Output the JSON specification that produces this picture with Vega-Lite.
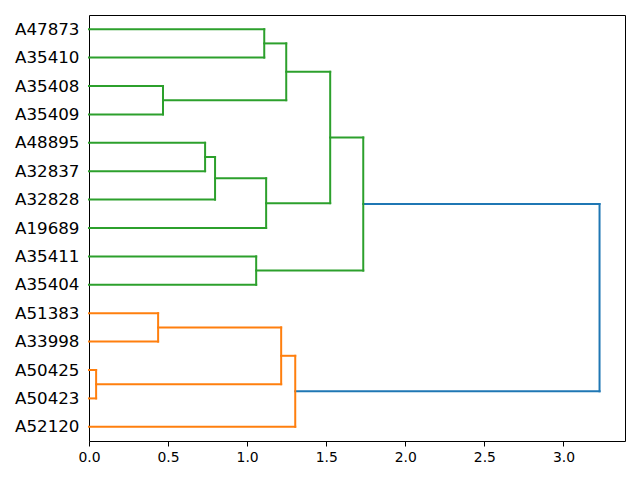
{
  "$schema": "https://vega.github.io/schema/vega-lite/v6.json",
  "width": 536,
  "height": 426,
  "autosize": {"type": "none"},
  "padding": {"left": 89, "top": 15, "right": 15, "bottom": 39},
  "background": "white",
  "config": {
    "font": "DejaVu Sans",
    "view": {"stroke": "black", "strokeWidth": 1},
    "axis": {"grid": false, "domain": false, "labelColor": "black", "tickColor": "black", "labelOverlap": false}
  },
  "data": {
    "values": [
      {"y1": 25, "y2": 15, "d1": 0, "d2": 0, "h": 0.045, "c": "orange"},
      {"y1": 45, "y2": 35, "d1": 0, "d2": 0, "h": 0.437, "c": "orange"},
      {"y1": 40, "y2": 20, "d1": 0.437, "d2": 0.045, "h": 1.215, "c": "orange"},
      {"y1": 30, "y2": 5, "d1": 1.215, "d2": 0, "h": 1.304, "c": "orange"},
      {"y1": 125, "y2": 115, "d1": 0, "d2": 0, "h": 0.468, "c": "green"},
      {"y1": 145, "y2": 135, "d1": 0, "d2": 0, "h": 1.108, "c": "green"},
      {"y1": 140, "y2": 120, "d1": 1.108, "d2": 0.468, "h": 1.247, "c": "green"},
      {"y1": 105, "y2": 95, "d1": 0, "d2": 0, "h": 0.734, "c": "green"},
      {"y1": 100, "y2": 85, "d1": 0.734, "d2": 0, "h": 0.797, "c": "green"},
      {"y1": 92.5, "y2": 75, "d1": 0.797, "d2": 0, "h": 1.12, "c": "green"},
      {"y1": 130, "y2": 83.75, "d1": 1.247, "d2": 1.12, "h": 1.525, "c": "green"},
      {"y1": 65, "y2": 55, "d1": 0, "d2": 0, "h": 1.057, "c": "green"},
      {"y1": 106.875, "y2": 60, "d1": 1.525, "d2": 1.057, "h": 1.734, "c": "green"},
      {"y1": 83.4375, "y2": 17.5, "d1": 1.734, "d2": 1.304, "h": 3.228, "c": "blue"}
    ]
  },
  "encoding": {
    "color": {
      "field": "c",
      "type": "nominal",
      "scale": {"domain": ["orange", "green", "blue"], "range": ["#ff7f0e", "#2ca02c", "#1f77b4"]},
      "legend": null
    }
  },
  "layer": [
    {
      "mark": {"type": "rule", "strokeWidth": 2, "strokeCap": "square"},
      "encoding": {
        "x": {
          "field": "d1", "type": "quantitative",
          "scale": {"domain": [0, 3.389], "nice": false, "zero": false},
          "axis": {"title": null, "values": [0, 0.5, 1, 1.5, 2, 2.5, 3], "tickCount": 20, "format": ".1f", "labelFontSize": 13.9, "tickSize": 5, "labelPadding": 4, "labelFlush": false, "labelOverlap": false}
        },
        "x2": {"field": "h"},
        "y": {
          "field": "y1", "type": "quantitative",
          "scale": {"domain": [0, 150], "nice": false, "zero": false},
          "axis": {
            "title": null,
            "values": [5, 15, 25, 35, 45, 55, 65, 75, 85, 95, 105, 115, 125, 135, 145],
            "tickCount": 30,
            "labelExpr": "['A52120','A50423','A50425','A33998','A51383','A35404','A35411','A19689','A32828','A32837','A48895','A35409','A35408','A35410','A47873'][round((datum.value-5)/10)]",
            "ticks": false,
            "labelFontSize": 16.7,
            "labelPadding": 10,
            "labelOverlap": false,
            "labelFlush": false
          }
        }
      }
    },
    {
      "mark": {"type": "rule", "strokeWidth": 2, "strokeCap": "square"},
      "encoding": {
        "x": {"field": "d2", "type": "quantitative"},
        "x2": {"field": "h"},
        "y": {"field": "y2", "type": "quantitative"}
      }
    },
    {
      "mark": {"type": "rule", "strokeWidth": 2, "strokeCap": "square"},
      "encoding": {
        "x": {"field": "h", "type": "quantitative"},
        "y": {"field": "y1", "type": "quantitative"},
        "y2": {"field": "y2"}
      }
    }
  ]
}
